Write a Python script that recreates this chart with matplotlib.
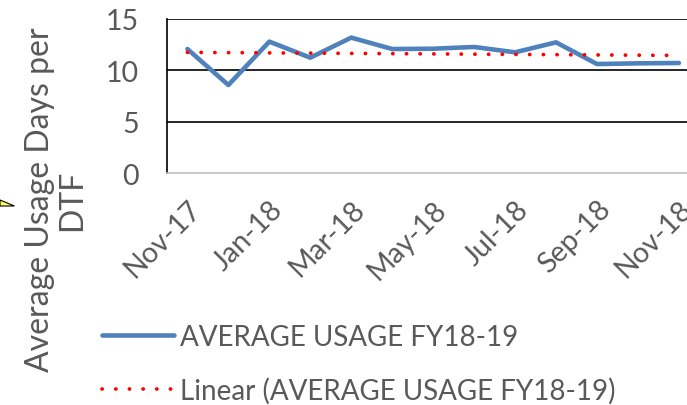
import numpy as np
import matplotlib.pyplot as plt
from matplotlib.patches import Polygon

months = ["Nov-17", "Dec-17", "Jan-18", "Feb-18", "Mar-18", "Apr-18", "May-18",
          "Jun-18", "Jul-18", "Aug-18", "Sep-18", "Oct-18", "Nov-18"]
usage = [12.07, 8.57, 12.79, 11.23, 13.18, 12.07, 12.10,
         12.27, 11.75, 12.72, 10.61, 10.68, 10.71]
y_ticks = [0, 5, 10, 15]

plt.rcParams["font.family"] = ["Lato", "DejaVu Sans"]
GREY = "#595959"

fig = plt.figure(figsize=(6.87, 4.06), dpi=100)
ax = fig.add_axes([0.243, 0.571, 0.775, 0.38])

x = np.arange(len(months))
line, = ax.plot(x, usage, color="#4F81BD", lw=3.3, solid_capstyle="round",
                label="AVERAGE USAGE FY18-19")
coef = np.polyfit(x, usage, 1)
trend, = ax.plot(x, np.polyval(coef, x), color="#FF0000", lw=2.7,
                 linestyle=(0, (0.05, 3.6)), dash_capstyle="round",
                 label="Linear (AVERAGE USAGE FY18-19)")

ax.set_xlim(-0.5, len(months) - 0.5)
ax.set_ylim(0, 15)
ax.set_yticks(y_ticks)
ax.set_xticks(x[::2])
ax.set_xticklabels(months[::2], rotation=45, ha="right", rotation_mode="anchor")
ax.tick_params(axis="both", length=0, labelsize=20.5, labelcolor=GREY)
ax.tick_params(axis="y", pad=20)
ax.tick_params(axis="x", pad=16)
for v in y_ticks[1:]:
    ax.axhline(v, color="black", lw=1.2, zorder=0)
ax.spines["bottom"].set_color("#BFBFBF")
ax.spines["left"].set_color("black")
ax.spines["top"].set_visible(False)
ax.spines["right"].set_visible(False)
for s in ("bottom", "left"):
    ax.spines[s].set_linewidth(1.2)

fig.text(0.082, 1 - 200 / 406, "Average Usage Days per\nDTF", rotation=90,
         ha="center", va="center", fontsize=23, color=GREY, linespacing=1.1)

# small callout fragment at the left edge
fig.patches.append(Polygon([(0.0, 1 - 201 / 406), (0.021, 1 - 207 / 406), (0.0, 1 - 207 / 406)],
                           closed=True, transform=fig.transFigure,
                           facecolor="#FFFF66", edgecolor="black", lw=0.8))

fig.legend(handles=[line, trend], loc="upper left", bbox_to_anchor=(0.132, 0.228),
           frameon=False, fontsize=20, labelcolor=GREY, handlelength=2.6,
           handletextpad=0.22, labelspacing=1.0, borderaxespad=0)

fig.savefig("out.png", dpi=100)
